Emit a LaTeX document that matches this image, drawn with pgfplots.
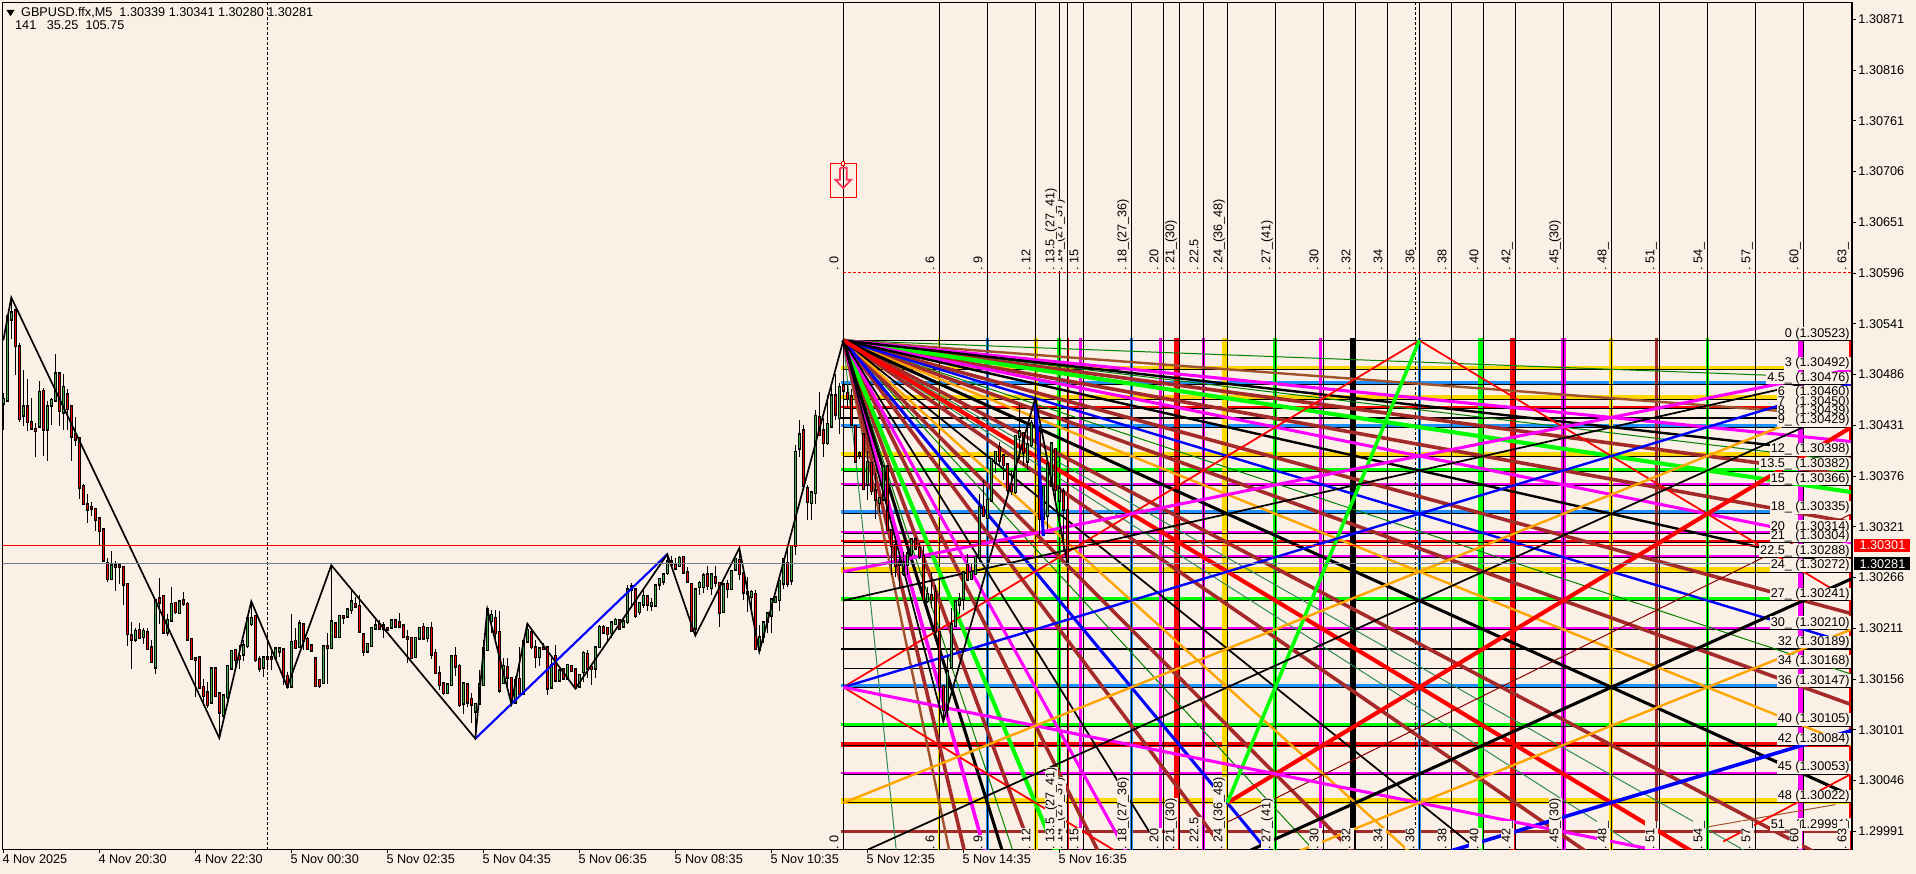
\documentclass[border=0pt]{standalone}
\usepackage{fontspec}
\setmainfont{Liberation Sans}
\usepackage{pgfplots}
\usepackage{pgfplotstable}
\pgfplotsset{compat=1.18}
% 1 px of the reference = 0.75pt; prices are in units of 0.00001 above 1.30000, x in M5 bars
\definecolor{bgc}{HTML}{FAF0E6}
\definecolor{gold}{HTML}{FFD700}
\definecolor{dodger}{HTML}{1E90FF}
\definecolor{lime}{HTML}{00FF00}
\definecolor{bluex}{HTML}{0000FF}
\definecolor{redx}{HTML}{FF0000}
\definecolor{magx}{HTML}{FF00FF}
\definecolor{brownx}{HTML}{A52A2A}
\definecolor{siennax}{HTML}{A0522D}
\definecolor{orangex}{HTML}{FFA500}
\definecolor{dgreen}{HTML}{008000}
\definecolor{sgreen}{HTML}{2E8B57}
\definecolor{dred}{HTML}{8B0000}
\definecolor{slate}{HTML}{708090}
\definecolor{bull}{HTML}{3CB043}
\definecolor{arrowc}{HTML}{FF3355}
\tikzset{
  w1/.style={line width=.75pt}, w15/.style={line width=1.3pt}, w2/.style={line width=1.8pt},
  w25/.style={line width=2.3pt}, w3/.style={line width=2.7pt}, w35/.style={line width=3.1pt},
  w4/.style={line width=3.5pt}, w5/.style={line width=4.2pt},
  lvl/.style={anchor=south east, fill=bgc, inner xsep=.75pt, inner ysep=0pt, text height=7.3pt, text depth=2.2pt, font=\fontsize{9.5}{11}\selectfont},
  tim/.style={rotate=90, anchor=base west, fill=bgc, inner xsep=0pt, inner ysep=0pt, text height=7.1pt, text depth=3pt, font=\fontsize{9.5}{11}\selectfont},
  bid/.style={anchor=west, inner sep=0pt, minimum width=42pt, minimum height=9.75pt, font=\fontsize{9.5}{11}\selectfont},
}
\newcommand{\gl}[2]{\addplot[#1] coordinates {#2};}
\newcommand{\toplab}[2]{\node[tim] at (axis cs:#1,598) {.~#2};\node[tim] at (axis cs:#1,-28.6) {.~#2};}

\pgfplotstableread{
bar open high low close
0 455 466 426 459
1 458 549 457 549
2 546 569 524 553
5 442 491 430 451
9 430 479 429 467
11 427 457 392 451
12 453 461 431 458
13 458 508 457 487
15 445 487 426 472
27 265 295 264 279
33 199 211 196 208
35 202 211 194 208
38 169 241 162 241
41 207 227 203 220
42 220 256 219 237
44 228 241 227 240
52 131 168 129 167
55 117 140 115 138
56 137 171 133 170
57 168 187 167 186
60 183 198 176 192
61 192 222 190 222
62 216 240 213 222
65 169 181 158 179
68 179 189 177 189
69 186 190 180 189
72 148 227 148 196
74 191 220 190 216
80 152 191 151 191
82 190 277 189 218
84 202 224 201 224
86 224 231 222 231
87 231 251 226 240
91 186 194 185 194
92 192 211 191 211
93 211 221 210 214
97 212 221 211 219
103 180 200 179 200
104 200 211 199 211
106 201 211 196 211
111 141 152 140 150
112 150 182 149 180
115 130 152 118 151
118 121 130 92 129
119 130 166 129 150
120 150 198 149 189
121 188 232 187 231
122 219 231 206 225
125 152 179 151 170
128 131 159 130 155
130 140 198 139 197
131 197 217 195 209
134 180 191 170 189
137 147 179 145 171
139 155 166 154 165
141 157 171 156 171
144 148 162 146 160
145 164 186 153 184
148 168 191 157 190
149 191 215 190 212
152 206 217 200 217
153 216 222 215 220
155 213 222 212 218
156 218 258 216 253
157 253 260 233 256
159 229 238 225 238
160 237 253 233 246
162 236 244 230 238
163 236 258 235 257
164 259 265 253 264
165 262 271 258 269
166 271 292 269 283
169 279 289 278 287
173 211 253 204 253
174 256 262 247 260
175 256 271 249 268
177 255 271 247 269
180 229 260 228 258
182 254 274 253 273
183 275 286 274 286
187 245 253 226 250
189 188 215 186 201
190 202 218 195 217
191 218 227 206 227
192 225 242 206 242
193 240 244 238 244
194 242 263 230 262
195 260 287 254 286
197 263 301 258 300
198 301 410 290 402
199 406 437 397 421
202 347 360 328 358
203 358 448 346 441
206 412 464 410 432
207 430 473 430 463
209 439 477 422 472
216 367 403 350 391
219 347 352 336 352
220 351 388 350 386
225 270 294 268 282
226 280 300 269 292
227 292 309 291 307
231 241 256 238 248
236 123 180 115 164
237 169 233 168 215
238 214 242 213 240
239 237 249 227 242
240 243 273 231 271
242 265 282 263 272
243 270 289 269 288
244 288 357 283 342
246 331 361 330 350
247 350 395 349 394
248 391 403 379 402
253 359 421 357 419
254 419 453 395 424
256 392 428 383 410
257 410 437 408 433
260 330 365 330 365
261 333 390 319 389
262 366 412 366 411
264 350 365 328 362
}\bulltab

\pgfplotstableread{
bar open high low close
3 555 556 486 517
4 516 520 435 438
6 451 481 425 435
7 434 461 426 428
8 427 433 397 425
10 468 471 398 427
14 487 488 430 447
16 464 470 426 449
17 451 451 392 419
18 421 440 409 416
19 417 418 351 364
20 365 367 345 346
21 345 357 325 340
22 342 348 333 341
23 340 340 317 329
24 330 330 300 317
25 318 318 284 285
26 281 287 261 265
28 279 284 251 278
29 279 279 259 278
30 277 277 236 259
31 259 259 192 205
32 203 218 167 199
34 209 217 200 201
36 206 211 187 189
37 190 198 175 175
39 243 266 216 239
40 246 246 205 207
43 238 239 227 229
45 241 250 235 238
46 237 240 198 199
47 199 200 177 178
48 178 180 137 177
49 179 180 146 147
50 147 156 129 138
51 141 153 125 128
53 167 167 137 138
54 140 140 92 120
58 187 187 167 177
59 180 193 167 178
63 224 224 175 177
64 177 181 164 168
66 179 206 166 178
67 179 189 166 178
70 188 188 150 159
71 159 164 146 148
73 197 211 189 190
75 215 215 188 198
76 199 202 188 189
77 192 192 186 187
78 178 178 148 149
79 155 155 146 149
81 191 206 151 190
83 216 217 200 202
85 224 225 216 223
88 237 245 234 235
89 235 247 207 208
90 204 204 181 186
94 215 220 210 211
95 214 218 201 211
96 211 212 209 210
98 219 221 212 213
99 217 228 212 213
100 214 214 200 202
101 201 209 173 200
102 200 200 178 179
105 212 217 199 200
107 211 218 178 183
108 184 189 162 163
109 162 170 144 150
110 151 152 139 141
113 181 191 159 170
114 170 172 126 128
116 150 152 126 131
117 134 141 108 129
123 222 231 195 206
124 207 230 141 144
126 169 179 144 158
127 157 158 130 132
129 156 191 139 140
132 206 209 189 191
133 190 198 168 180
135 190 195 188 189
136 190 191 139 146
138 181 193 154 155
140 166 168 155 157
142 170 171 164 165
143 166 166 145 147
146 183 188 157 168
147 169 170 150 167
150 212 215 206 207
151 211 211 197 205
154 219 220 210 211
158 253 254 222 225
161 245 247 230 237
167 283 289 276 280
168 280 287 274 276
170 288 289 271 272
171 271 278 260 262
172 259 260 208 209
176 269 279 253 257
178 266 279 256 261
179 260 260 212 228
181 259 263 244 254
184 285 298 263 270
185 270 274 242 250
186 250 267 229 249
188 248 253 188 189
196 281 300 256 260
200 425 431 365 366
201 362 366 328 348
204 439 467 419 421
205 425 439 397 412
208 463 487 437 443
210 474 523 458 469
211 466 475 451 460
212 462 470 430 432
213 430 430 391 392
214 400 403 395 399
215 421 421 361 362
217 390 390 356 360
218 360 379 329 351
221 386 386 317 318
222 317 318 269 301
223 301 311 267 279
224 282 287 256 280
228 307 309 296 298
229 298 303 286 289
230 289 301 241 242
232 247 271 233 242
233 250 258 207 208
234 207 207 123 148
235 148 150 110 123
241 280 292 263 264
245 342 372 332 333
249 407 413 386 393
250 398 399 372 388
251 388 388 357 361
252 367 383 356 360
255 422 422 388 402
258 450 461 397 431
259 424 430 311 330
263 405 406 350 361
265 359 363 296 340
266 339 341 280 281
}\beartab

\begin{document}
\begin{tikzpicture}
\path[use as bounding box, fill=bgc] (-1.8pt,-18pt) rectangle (1435.2pt,637.5pt);
\begin{axis}[
  at={(0pt,0pt)}, anchor=south west,
  scale only axis,
  width=1387.2pt, height=635.775pt,
  xmin=-0.225, xmax=462.175,
  ymin=-29.2, ymax=889.4,
  clip mode=individual,
  enlargelimits=false,
  axis line style={line width=.75pt},
  tick style={black, line width=.75pt},
  tick align=outside,
  major tick length=2.6pt,
  font=\fontsize{9.5}{11}\selectfont,
  xtick pos=bottom, ytick pos=right, yticklabel pos=right,
  xtick={0,24,48,72,96,120,144,168,192,216,240,264},
  xticklabels={4 Nov 2025,4 Nov 20:30,4 Nov 22:30,5 Nov 00:30,5 Nov 02:35,5 Nov 04:35,5 Nov 06:35,5 Nov 08:35,5 Nov 10:35,5 Nov 12:35,5 Nov 14:35,5 Nov 16:35},
  xticklabel style={anchor=north west, inner sep=0pt, xshift=-.8pt, yshift=-1pt},
  ytick={871,816,761,706,651,596,541,486,431,376,321,266,211,156,101,46,-9},
  yticklabels={1.30871,1.30816,1.30761,1.30706,1.30651,1.30596,1.30541,1.30486,1.30431,1.30376,1.30321,1.30266,1.30211,1.30156,1.30101,1.30046,1.29991},
  yticklabel style={anchor=west, inner sep=0pt, xshift=2pt},
]
% level bands of the box
\gl{gold,w3}{(209.3,493)(462.2,493)}
\gl{dodger,w3}{(209.3,477.5)(462.2,477.5)}
\gl{gold,w3}{(209.3,462)(462.2,462)}
\gl{redx,w15}{(209.3,451)(462.2,451)}
\gl{dodger,w3}{(209.3,431)(462.2,431)}
\gl{gold,w3}{(209.3,400)(462.2,400)}
\gl{lime,w3}{(209.3,383)(462.2,383)}
\gl{magx,w2}{(209.3,367.5)(462.2,367.5)}
\gl{dodger,w3}{(209.3,337)(462.2,337)}
\gl{magx,w2}{(209.3,315.5)(462.2,315.5)}
\gl{redx,w15}{(209.3,305.5)(462.2,305.5)}
\gl{magx,w2}{(209.3,289.5)(462.2,289.5)}
\gl{gold,w5}{(209.3,274)(462.2,274)}
\gl{lime,w3}{(209.3,243)(462.2,243)}
\gl{magx,w2}{(209.3,211.5)(462.2,211.5)}
\gl{dodger,w3}{(209.3,149)(462.2,149)}
\gl{lime,w3}{(209.3,107)(462.2,107)}
\gl{redx,w5}{(209.3,85)(462.2,85)}
\gl{magx,w2}{(209.3,54.5)(462.2,54.5)}
\gl{gold,w5}{(209.3,24)(462.2,24)}
\gl{brownx,w3}{(209.3,-9)(462.2,-9)}
% time bands of the box
\gl{gold,w15}{(234,526)(234,-29.2)}
\gl{dodger,w3}{(246,526)(246,-29.2)}
\gl{gold,w4}{(258.2,526)(258.2,-29.2)}
\gl{lime,w35}{(264,526)(264,-29.2)}
\gl{redx,w15}{(266.2,526)(266.2,-29.2)}
\gl{magx,w3}{(269.25,526)(269.25,-29.2)}
\gl{dodger,w3}{(282,526)(282,-29.2)}
\gl{magx,w3}{(289.25,526)(289.25,-29.2)}
\gl{redx,w5}{(293.25,526)(293.25,-29.2)}
\gl{magx,w25}{(300,526)(300,-29.2)}
\gl{gold,w4}{(305.25,526)(305.25,-29.2)}
\gl{lime,w35}{(318,526)(318,-29.2)}
\gl{magx,w3}{(329.25,526)(329.25,-29.2)}
\gl{black,w4}{(337.25,526)(337.25,-29.2)}
\gl{dodger,w3}{(354,526)(354,-29.2)}
\gl{lime,w4}{(369.25,526)(369.25,-29.2)}
\gl{redx,w5}{(377.25,526)(377.25,-29.2)}
\gl{magx,w4}{(390,526)(390,-29.2)}
\gl{gold,w35}{(402,526)(402,-29.2)}
\gl{brownx,w3}{(413.25,526)(413.25,-29.2)}
\gl{lime,w3}{(426,526)(426,-29.2)}
\gl{magx,w4}{(449.25,526)(449.25,-29.2)}
\gl{redx,w2}{(461.6,526)(461.6,-29.2)}
% thin black grid of the box
\addplot[black, w1, unbounded coords=jump] coordinates {
(210,-29.2)(210,889.4)(210,nan)(234,-29.2)(234,889.4)(234,nan)(246,-29.2)(246,889.4)(246,nan)
(258,-29.2)(258,889.4)(258,nan)(264,-29.2)(264,889.4)(264,nan)(266,-29.2)(266,889.4)(266,nan)(270,-29.2)(270,889.4)(270,nan)
(282,-29.2)(282,889.4)(282,nan)(290,-29.2)(290,889.4)(290,nan)(294,-29.2)(294,889.4)(294,nan)
(300,-29.2)(300,889.4)(300,nan)(306,-29.2)(306,889.4)(306,nan)(318,-29.2)(318,889.4)(318,nan)
(330,-29.2)(330,889.4)(330,nan)(338,-29.2)(338,889.4)(338,nan)(346,-29.2)(346,889.4)(346,nan)
(354,-29.2)(354,889.4)(354,nan)(362,-29.2)(362,889.4)(362,nan)(370,-29.2)(370,889.4)(370,nan)
(378,-29.2)(378,889.4)(378,nan)(390,-29.2)(390,889.4)(390,nan)(402,-29.2)(402,889.4)(402,nan)
(414,-29.2)(414,889.4)(414,nan)(426,-29.2)(426,889.4)(426,nan)(438,-29.2)(438,889.4)(438,nan)
(450,-29.2)(450,889.4)(450,nan)
};
\addplot[black, w1, dash pattern=on 2.25pt off 1.5pt, unbounded coords=jump] coordinates {
(353,-29.2)(353,889.4)(353,nan)(66,-29.2)(66,889.4)
};
\addplot[black, w1, unbounded coords=jump] coordinates {
(210,523)(462.2,523)(210,nan)(210,491)(462.2,491)(210,nan)(210,475)(462.2,475)(210,nan)
(210,459.5)(462.2,459.5)(210,nan)(210,449)(462.2,449)(210,nan)(210,429)(462.2,429)(210,nan)
(210,397.5)(462.2,397.5)(210,nan)(210,381)(462.2,381)(210,nan)(210,366)(462.2,366)(210,nan)
(210,335)(462.2,335)(210,nan)(210,314)(462.2,314)(210,nan)(210,304)(462.2,304)(210,nan)
(210,288)(462.2,288)(210,nan)(210,271.5)(462.2,271.5)(210,nan)(210,241)(462.2,241)(210,nan)
(210,210)(462.2,210)(210,nan)(210,168)(462.2,168)(210,nan)(210,146.5)(462.2,146.5)(210,nan)
(210,105)(462.2,105)(210,nan)(210,84)(462.2,84)(210,nan)(210,53)(462.2,53)(210,nan)
(210,22)(462.2,22)
};
\gl{black,w15}{(209.3,439)(462.2,439)}
\gl{black,w15}{(209.3,189)(462.2,189)}
% red dashed line above the box
\gl{redx,w1,dash pattern=on 2.25pt off 1.5pt}{(210,597)(462,597)}
% fan from the high of the box
\gl{dgreen,w1}{(210,523)(462,481.9)}
\gl{dgreen,w1}{(210,523)(462,391.5)}
\gl{dgreen,w1}{(210,523)(462,161.3)}
\gl{sgreen,w1}{(210,523)(462,-95.2)}
\gl{sgreen,w1}{(210,523)(447.7,-134.7)}
\gl{dgreen,w1}{(210,523)(350,-134.7)}
\gl{dred,w1}{(210,523)(285.7,-134.7)}
\gl{dgreen,w1}{(210,523)(260.4,-134.7)}
\gl{sgreen,w1}{(210,523)(225.75,-134.7)}
\gl{siennax,w2}{(210,523)(462,440.8)}
\gl{siennax,w2}{(210,523)(241.5,-134.7)}
\gl{brownx,w3}{(210,523)(462,376.8)}
\gl{brownx,w3}{(210,523)(462,325.7)}
\gl{brownx,w3}{(210,523)(462,227)}
\gl{brownx,w3}{(210,523)(462,128.4)}
\gl{brownx,w3}{(210,523)(462,-52.5)}
\gl{brownx,w3}{(210,523)(430.5,-134.7)}
\gl{brownx,w3}{(210,523)(361.2,-134.7)}
\gl{brownx,w3}{(210,523)(323.5,-134.7)}
\gl{brownx,w3}{(210,523)(285.7,-134.7)}
\gl{brownx,w3}{(210,523)(266,-134.7)}
\gl{brownx,w3}{(210,523)(246,-134.7)}
\gl{orangex,w2}{(210,523)(462,84.5)}
\gl{orangex,w2}{(210,523)(378,-134.7)}
\gl{lime,w35}{(210,523)(462,358.6)}
\gl{lime,w35}{(210,523)(273,-134.7)}
\gl{magx,w25}{(210,523)(462,413.4)}
\gl{magx,w25}{(210,523)(462,303.8)}
\gl{magx,w25}{(210,523)(294,-134.7)}
\gl{magx,w3}{(210,523)(252,-134.7)}
\gl{bluex,w2}{(210,523)(462,194.2)}
\gl{bluex,w25}{(210,523)(336,-134.7)}
\gl{black,w2}{(210,523)(462,399.7)}
\gl{black,w2}{(210,523)(462,276.4)}
\gl{black,w25}{(210,523)(462,29.7)}
\gl{black,w15}{(210,523)(399,-134.7)}
\gl{black,w15}{(210,523)(304.5,-134.7)}
\gl{black,w25}{(210,523)(257.25,-134.7)}
\gl{redx,w35}{(210,523)(462,-134.7)}
% lines inside the box
\gl{dred,w1}{(306,1)(462,335)}
\gl{siennax,w1}{(426,-4.2)(458,20)}
\gl{redx,w15}{(210,147.2)(354,523)}
\gl{redx,w15}{(354,523)(462,241.1)}
\gl{redx,w15}{(210,147.2)(306,-103.2)}
\gl{redx,w15}{(430,-20)(462,53.2)}
\gl{redx,w35}{(306,21.9)(462,429)}
\gl{lime,w3}{(306,21.9)(354,523)}
\gl{bluex,w2}{(210,147.2)(462,476)}
\gl{bluex,w3}{(362,-30)(462,100.2)}
\gl{magx,w25}{(210,147.2)(462,-72)}
\gl{magx,w25}{(210,272.4)(462,491.7)}
\gl{orangex,w2}{(210,21.9)(462,460.4)}
\gl{orangex,w2}{(314,-47.7)(462,209.8)}
\gl{black,w15}{(210,241.1)(462,487.5)}
\gl{black,w15}{(210,-40.8)(462,452.5)}
\gl{black,w25}{(306,-40.8)(462,264.6)}
% candles
\addplot[draw=none, error bars/.cd, y dir=both, y explicit, error mark=none, error bar style={black, w1}]
  table[x=bar, y=close, y error plus expr=\thisrow{high}-\thisrow{close}, y error minus expr=\thisrow{close}-\thisrow{low}] {\bulltab};
\addplot[draw=none, error bars/.cd, y dir=both, y explicit, error mark=none, error bar style={black, w1}]
  table[x=bar, y=close, y error plus expr=\thisrow{high}-\thisrow{close}, y error minus expr=\thisrow{close}-\thisrow{low}] {\beartab};
\addplot[draw=none, error bars/.cd, y dir=minus, y explicit, error mark=none, error bar style={black, line width=2.25pt, line cap=rect}]
  table[x=bar, y=close, y error minus expr=\thisrow{close}-\thisrow{open}] {\bulltab};
\addplot[draw=none, error bars/.cd, y dir=plus, y explicit, error mark=none, error bar style={black, line width=2.25pt, line cap=rect}]
  table[x=bar, y=close, y error plus expr=\thisrow{open}-\thisrow{close}] {\beartab};
\addplot[draw=none, error bars/.cd, y dir=minus, y explicit, error mark=none, error bar style={bull, line width=1pt}]
  table[x=bar, y=close, y error minus expr=\thisrow{close}-\thisrow{open}] {\bulltab};
\addplot[draw=none, error bars/.cd, y dir=plus, y explicit, error mark=none, error bar style={redx, line width=1pt}]
  table[x=bar, y=close, y error plus expr=\thisrow{open}-\thisrow{close}] {\beartab};
% zigzags
\gl{bluex,line width=1.6pt}{(118,91.5)(166,291.3)}
\gl{bluex,w25}{(258,461)(260,311)}
\gl{black,line width=1.25pt}{(0,523)(2,569.5)(38,241.5)(54,92.2)(62,240.3)(71,147.5)(82,279.4)(118,91.5)(121,231.7)(127,129.4)(131,216.1)(143,145.7)(166,291.3)(173,203)(184,298)(189,185.7)(210,523)(235,110)(258,460.6)(266,282)}
% bid and ask
\gl{redx,w1}{(-0.2,301)(462.2,301)}
\gl{slate,w1}{(-0.2,281)(462.2,281)}
% arrow object
\gl{redx,w1}{(206.9,715)(213.35,715)(213.35,678)(206.9,678)(206.9,715)}
\gl{arrowc,w15}{(209.15,710)(210.85,710)(210.85,697)(211.9,697)(210,688)(208.05,697)(209.15,697)(209.15,710)}
\gl{redx,w1,fill=bgc}{(209.6,716.5)(210.4,716.5)(210.4,712.5)(209.6,712.5)(209.6,716.5)}
% header triangle
\gl{black,fill=black}{(0.9,881)(2.7,881)(1.8,875)(0.9,881)}
\node[anchor=west, inner sep=0pt] at (axis cs:4.4,878.2) {GBPUSD.ffx,M5\ \ 1.30339 1.30341 1.30280 1.30281};
\node[anchor=west, inner sep=0pt] at (axis cs:2.9,864.2) {141\ \ \ 35.25\ \ 105.75};
% level labels
\node[lvl] at (axis cs:461.9,523) {0 (1.30523)};
\node[lvl] at (axis cs:461.9,491) {3 (1.30492)};
\node[lvl] at (axis cs:461.9,475) {4.5\_ (1.30476)};
\node[lvl] at (axis cs:461.9,460) {6\_ (1.30460)};
\node[lvl] at (axis cs:461.9,449) {7\_ (1.30450)};
\node[lvl] at (axis cs:461.9,439) {8\_ (1.30439)};
\node[lvl] at (axis cs:461.9,429) {9\_ (1.30429)};
\node[lvl] at (axis cs:461.9,398) {12\_ (1.30398)};
\node[lvl] at (axis cs:461.9,382) {13.5\_ (1.30382)};
\node[lvl] at (axis cs:461.9,366) {15\_ (1.30366)};
\node[lvl] at (axis cs:461.9,335) {18\_ (1.30335)};
\node[lvl] at (axis cs:461.9,314) {20\_ (1.30314)};
\node[lvl] at (axis cs:461.9,304) {21\_ (1.30304)};
\node[lvl] at (axis cs:461.9,288) {22.5\_ (1.30288)};
\node[lvl] at (axis cs:461.9,272) {24\_ (1.30272)};
\node[lvl] at (axis cs:461.9,241) {27\_ (1.30241)};
\node[lvl] at (axis cs:461.9,210) {30\_ (1.30210)};
\node[lvl] at (axis cs:461.9,189) {32 (1.30189)};
\node[lvl] at (axis cs:461.9,168) {34 (1.30168)};
\node[lvl] at (axis cs:461.9,147) {36 (1.30147)};
\node[lvl] at (axis cs:461.9,105) {40 (1.30105)};
\node[lvl] at (axis cs:461.9,84) {42 (1.30084)};
\node[lvl] at (axis cs:461.9,53) {45 (1.30053)};
\node[lvl] at (axis cs:461.9,22) {48 (1.30022)};
\node[lvl] at (axis cs:461.9,-9) {51\_ (1.29991)};
% time labels
\toplab{208.75}{0}
\toplab{232.75}{6}
\toplab{244.75}{9}
\toplab{256.75}{12}
\toplab{264.75}{14\_(27\_37)}
\toplab{262.75}{13.5\_(27\_41)}
\toplab{268.75}{15}
\toplab{280.75}{18\_(27\_36)}
\toplab{288.75}{20}
\toplab{292.75}{21\_(30)}
\toplab{298.75}{22.5}
\toplab{304.75}{24\_(36\_48)}
\toplab{316.75}{27\_(41)}
\toplab{328.75}{30}
\toplab{336.75}{32}
\toplab{344.75}{34}
\toplab{352.75}{36}
\toplab{360.75}{38}
\toplab{368.75}{40}
\toplab{376.75}{42\_}
\toplab{388.75}{45\_(30)}
\toplab{400.75}{48\_}
\toplab{412.75}{51\_}
\toplab{424.75}{54\_}
\toplab{436.75}{57\_}
\toplab{448.75}{60\_}
\toplab{460.75}{63\_}
% current price boxes
\node[bid, fill=redx, text=white] at (axis cs:462.7,301) {1.30301};
\node[bid, fill=black, text=white] at (axis cs:462.7,281) {1.30281};
\draw[line width=1.5pt] (rel axis cs:1,0) -- (rel axis cs:1,1);
\end{axis}
\end{tikzpicture}
\end{document}
